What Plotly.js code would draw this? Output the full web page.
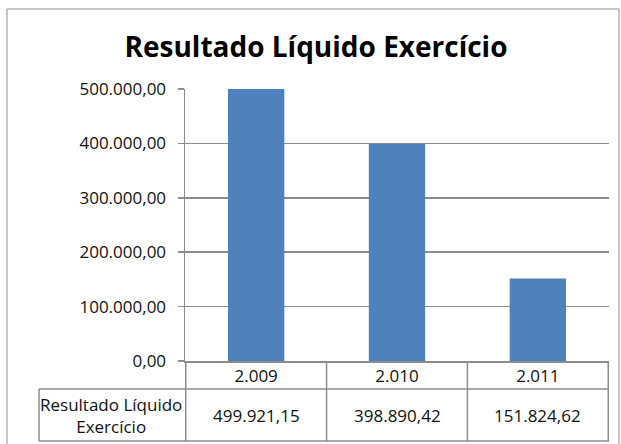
<!DOCTYPE html>
<html>
<head>
<meta charset="utf-8">
<script src="https://cdn.plot.ly/plotly-3.0.1.min.js"></script>
<style>html,body{margin:0;padding:0;background:#fff;}#chart{width:621px;height:444px;}</style>
</head>
<body>
<div id="chart"></div>
<script>
// ---- data ----
const chartTitle = "Resultado Líquido Exercício";
const seriesName = "Resultado Líquido Exercício";
const seriesLabelLines = ["Resultado Líquido", "Exercício"];
const years = ["2.009", "2.010", "2.011"];
const values = [499921.15, 398890.42, 151824.62];
const yTicks = [0, 100000, 200000, 300000, 400000, 500000];

// ---- helpers ----
function fmtBR(v) {
  const parts = v.toFixed(2).split(".");
  const intPart = parts[0].replace(/\B(?=(\d{3})+(?!\d))/g, ".");
  return intPart + "," + parts[1];
}
// plot area in pixels
const L = 185, R = 609, T = 89, B = 361;
const W = 621, H = 444;
const px = p => (p - L) / (R - L);
const py = p => (B - p) / (B - T);

const FONT = "Open Sans, Noto Sans, sans-serif";
const FS = 17;
const GRID = "#8c8c8c";
const txt = "#111111";

const trace = {
  type: "bar",
  name: seriesName,
  x: years,
  y: values,
  marker: {color: "#4f81bd", line: {width: 0}},
  hoverinfo: "x+y"
};

const shapes = [];
// outer chart border
shapes.push({type: "rect", xref: "paper", yref: "paper", x0: px(7), x1: px(619), y0: py(470), y1: py(9),
  line: {color: "#8e8e8e", width: 1}, layer: "below"});
// table vertical lines at category boundaries
for (let i = 0; i <= years.length; i++) {
  shapes.push({type: "line", xref: "x", yref: "paper", x0: i - 0.5, x1: i - 0.5, y0: py(361), y1: py(441),
    line: {color: GRID, width: 1.5}});
}
// table horizontal lines
shapes.push({type: "line", xref: "paper", yref: "paper", x0: px(39), x1: 1, y0: py(389), y1: py(389), line: {color: GRID, width: 1.5}});
shapes.push({type: "line", xref: "paper", yref: "paper", x0: px(39), x1: 1, y0: py(441), y1: py(441), line: {color: GRID, width: 1.5}});
// left label cell
shapes.push({type: "line", xref: "paper", yref: "paper", x0: px(39), x1: px(39), y0: py(389), y1: py(441), line: {color: GRID, width: 1.5}});

const annotations = [];
values.forEach((v, i) => {
  annotations.push({xref: "x", yref: "paper", x: i, y: py(415), text: fmtBR(v), showarrow: false,
    xanchor: "center", yanchor: "middle", font: {family: FONT, size: FS, color: txt}});
});
annotations.push({xref: "paper", yref: "paper", x: px(111), y: py(415), text: seriesLabelLines.join("<br>"),
  showarrow: false, xanchor: "center", yanchor: "middle", align: "center",
  font: {family: FONT, size: FS, color: txt}});

const layout = {
  width: W, height: H,
  margin: {l: L, r: W - R, t: T, b: H - B, pad: 0},
  paper_bgcolor: "#ffffff", plot_bgcolor: "#ffffff",
  separators: ",.",
  showlegend: false,
  bargap: 0.6,
  title: {text: chartTitle, xref: "container", yref: "container", x: 316 / W, y: 1 - 47 / H,
    xanchor: "center", yanchor: "middle", font: {family: FONT, size: 28, weight: 700, color: "#000"}},
  xaxis: {type: "category", showgrid: false, showline: true, linecolor: GRID, linewidth: 1.5,
    ticks: "", tickfont: {family: FONT, size: FS, color: txt}, ticklabelstandoff: -1,
    fixedrange: true, zeroline: false},
  yaxis: {range: [0, 500000], tickvals: yTicks, tickformat: ",.2f", showgrid: true, gridcolor: GRID, gridwidth: 1.5,
    showline: true, linecolor: GRID, linewidth: 1.5, ticks: "outside", ticklen: 6, tickcolor: GRID, tickwidth: 1.5,
    tickfont: {family: FONT, size: FS, color: txt}, ticklabelstandoff: 8, zeroline: false, fixedrange: true},
  shapes: shapes,
  annotations: annotations
};

Plotly.newPlot("chart", [trace], layout, {displayModeBar: false, staticPlot: true});
</script>
</body>
</html>
